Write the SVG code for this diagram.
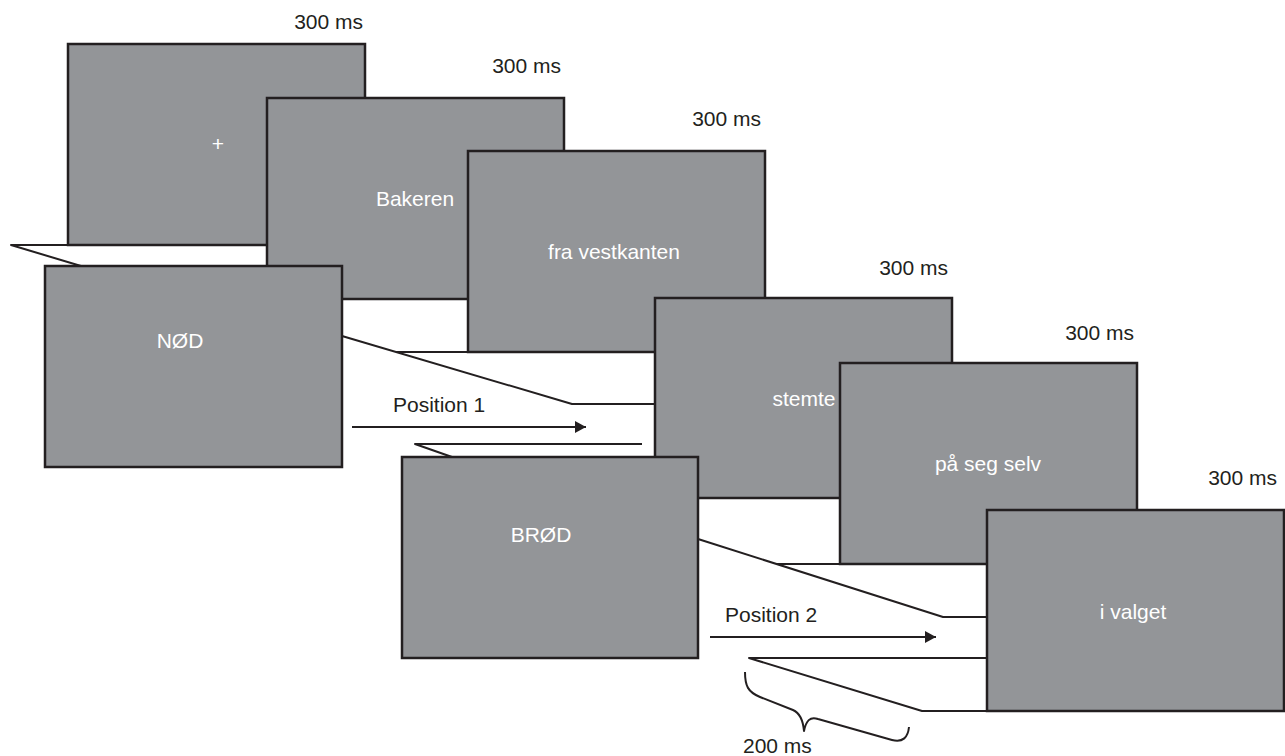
<svg xmlns="http://www.w3.org/2000/svg" width="1285" height="756" viewBox="0 0 1285 756">
<defs>
<style>
.scr{fill:#939598;stroke:#231f20;stroke-width:2.5}
.w{fill:#ffffff;font-family:"Liberation Sans",Arial,sans-serif;font-size:21px;text-anchor:middle}
.t{fill:#231f20;font-family:"Liberation Sans",Arial,sans-serif;font-size:21px}
.ln{fill:none;stroke:#231f20;stroke-width:2;stroke-linejoin:round;stroke-linecap:butt}
</style>
<marker id="ah" viewBox="0 0 11 12" refX="11" refY="6" markerWidth="11" markerHeight="12" markerUnits="userSpaceOnUse" orient="auto">
<path d="M0,0 L11,6 L0,12 Z" fill="#231f20"/>
</marker>
</defs>
<rect width="1285" height="756" fill="#ffffff"/>
<g id="connectors">
<path class="ln" d="M68,245 L11,245 L81,266"/>
<path class="ln" d="M342,336 L572,404 L655,404"/>
<path class="ln" d="M396,352 L468,352"/>
<path class="ln" d="M642,444 L415,444 L452,457"/>
<path class="ln" d="M698,539 L943,617 L987,617"/>
<path class="ln" d="M777,564 L840,564"/>
<path class="ln" d="M987,658 L749,658 L922,711 L987,711"/>
<line class="ln" x1="352" y1="427" x2="586" y2="427" marker-end="url(#ah)"/>
<line class="ln" x1="710" y1="637" x2="936" y2="637" marker-end="url(#ah)"/>
<path class="ln" d="M745,672 C745,686 748,692 760,697 L793,710 C800,713 803,720 804,731 C806,721 810,716 818,719 L892,740 C903,743 908,737 909,727"/>
</g>
<g id="screen-fixation">
<rect class="scr" x="68" y="44" width="297" height="201"/>
<text class="w" x="218" y="151">+</text>
<text class="t" x="363" y="29" text-anchor="end">300 ms</text>
</g>
<g id="screen-bakeren">
<rect class="scr" x="267" y="98" width="297" height="201"/>
<text class="w" x="415" y="206">Bakeren</text>
<text class="t" x="561" y="73" text-anchor="end">300 ms</text>
</g>
<g id="screen-fra-vestkanten">
<rect class="scr" x="468" y="151" width="297" height="201"/>
<text class="w" x="614" y="259">fra vestkanten</text>
<text class="t" x="761" y="126" text-anchor="end">300 ms</text>
</g>
<g id="screen-stemte">
<rect class="scr" x="655" y="298" width="297" height="200"/>
<text class="w" x="804" y="406">stemte</text>
<text class="t" x="948" y="275" text-anchor="end">300 ms</text>
</g>
<g id="screen-paa-seg-selv">
<rect class="scr" x="840" y="363" width="297" height="201"/>
<text class="w" x="988" y="471">på seg selv</text>
<text class="t" x="1134" y="340" text-anchor="end">300 ms</text>
</g>
<g id="screen-i-valget">
<rect class="scr" x="987" y="510" width="297" height="201"/>
<text class="w" x="1133" y="619">i valget</text>
<text class="t" x="1277" y="485" text-anchor="end">300 ms</text>
</g>
<g id="screen-nod">
<rect class="scr" x="45" y="266" width="297" height="201"/>
<text class="w" x="180" y="348">NØD</text>
</g>
<g id="screen-brod">
<rect class="scr" x="402" y="457" width="296" height="201"/>
<text class="w" x="541" y="542">BRØD</text>
</g>
<g id="labels">
<text class="t" x="393" y="412">Position 1</text>
<text class="t" x="725" y="622">Position 2</text>
<text class="t" x="743" y="753">200 ms</text>
</g>
</svg>
